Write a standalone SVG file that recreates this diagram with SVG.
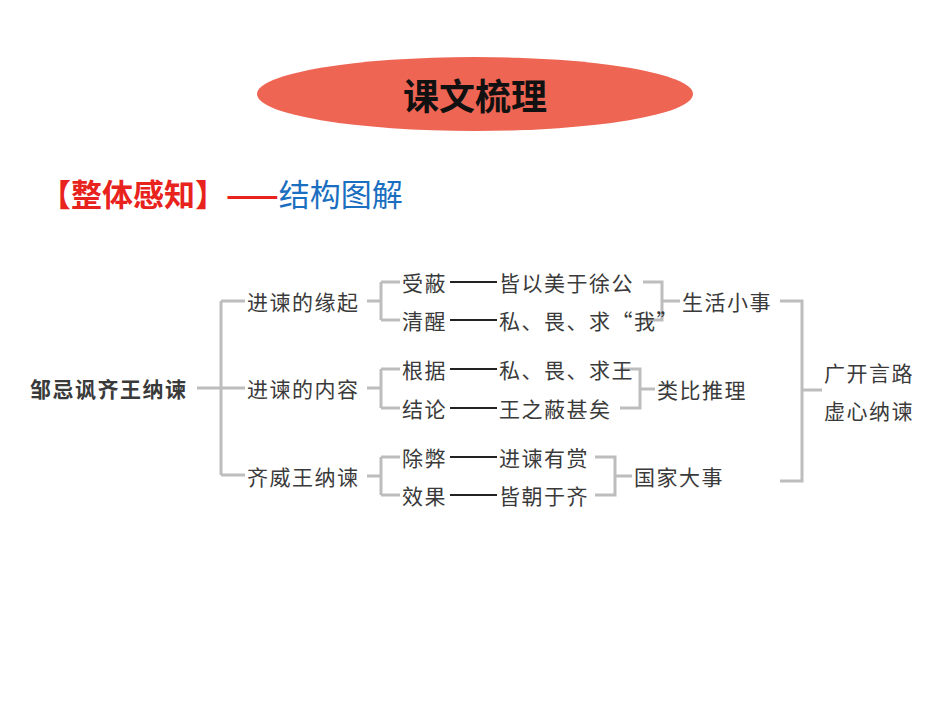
<svg xmlns="http://www.w3.org/2000/svg" width="950" height="713" viewBox="0 0 950 713">
<style>
.t{font-family:"Noto Sans CJK SC",sans-serif;font-size:21px;fill:#3a3a3a;letter-spacing:1.5px;dominant-baseline:central}
.g{stroke:#bdbdbd;stroke-width:3;fill:none}
.k{stroke:#222;stroke-width:2;fill:none}
</style>
<rect width="950" height="713" fill="#fff"/>
<g id="title"><ellipse cx="475" cy="94" rx="218" ry="37" fill="#EE6553"/>
<text x="475" y="94" text-anchor="middle" dominant-baseline="central" font-family="Noto Sans CJK SC,sans-serif" font-weight="bold" font-size="36" fill="#111">课文梳理</text></g>
<g id="subtitle"><text x="40" y="192" dominant-baseline="central" font-family="Noto Sans CJK SC,sans-serif" font-weight="bold" font-size="31"><tspan fill="#E8231E">【整体感知】——</tspan><tspan fill="#1A6FC0" font-weight="normal">结构图解</tspan></text></g>
<g id="connectors">
<path class="g" d="M197 388H245M221 301V475M221 301H245M221 475H245"/>
<path class="g" d="M367 301H381M381 282V320M381 282H400M381 320H400"/>
<path class="g" d="M367 388H381M381 369V408M381 369H400M381 408H400"/>
<path class="g" d="M367 476H381M381 457V495M381 457H400M381 495H400"/>
<path class="k" d="M450 282H497M450 320H497M450 369H497M450 408H497M450 457H497M450 495H497"/>
<path class="g" d="M643 282H662V320H643M662 301H680"/>
<path class="g" d="M620 369H640V408H620M640 389H655"/>
<path class="g" d="M595 457H615V495H595M615 476H632"/>
<path class="g" d="M780 301H802V481H780M802 390H822"/>
</g>
<g id="root"><text class="t" x="30" y="388" font-weight="bold" fill="#333">邹忌讽齐王纳谏</text></g>
<g id="n1"><text class="t" x="247" y="301">进谏的缘起</text></g>
<g id="n2"><text class="t" x="247" y="388">进谏的内容</text></g>
<g id="n3"><text class="t" x="247" y="476">齐威王纳谏</text></g>
<g id="a1"><text class="t" x="402" y="282">受蔽</text></g>
<g id="a2"><text class="t" x="402" y="320">清醒</text></g>
<g id="a3"><text class="t" x="402" y="369">根据</text></g>
<g id="a4"><text class="t" x="402" y="408">结论</text></g>
<g id="a5"><text class="t" x="402" y="457">除弊</text></g>
<g id="a6"><text class="t" x="402" y="495">效果</text></g>
<g id="b1"><text class="t" x="499" y="282">皆以美于徐公</text></g>
<g id="b2"><text class="t" x="499" y="320">私、畏、求“我”</text></g>
<g id="b3"><text class="t" x="499" y="369">私、畏、求王</text></g>
<g id="b4"><text class="t" x="499" y="408">王之蔽甚矣</text></g>
<g id="b5"><text class="t" x="499" y="457">进谏有赏</text></g>
<g id="b6"><text class="t" x="499" y="495">皆朝于齐</text></g>
<g id="c1"><text class="t" x="682" y="301">生活小事</text></g>
<g id="c2"><text class="t" x="657" y="389">类比推理</text></g>
<g id="c3"><text class="t" x="634" y="476">国家大事</text></g>
<g id="d"><text class="t" x="824" y="372">广开言路</text><text class="t" x="824" y="410">虚心纳谏</text></g>
</svg>
